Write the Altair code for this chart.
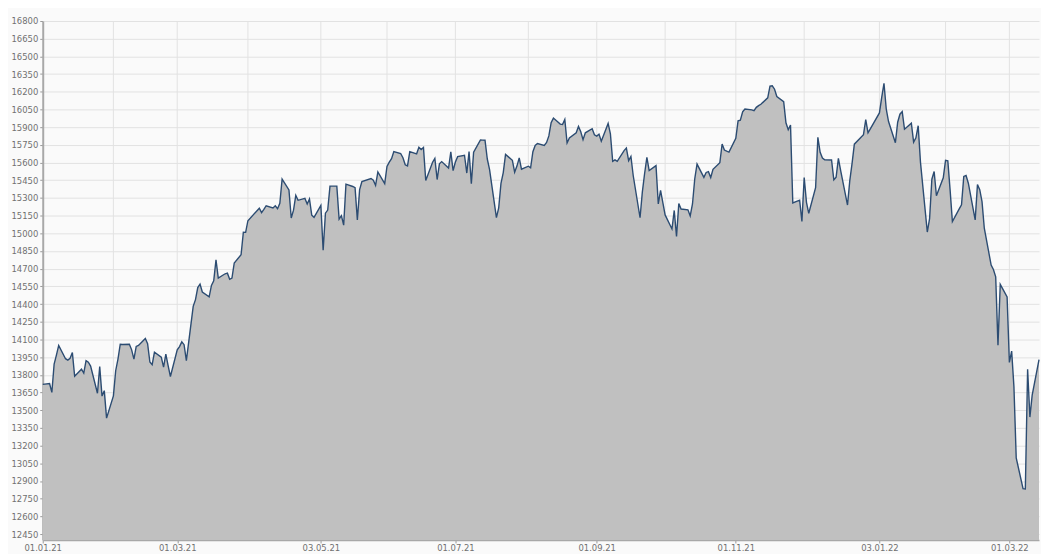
import altair as alt
import pandas as pd

# DAX daily closes
dates = [
    "2021-01-01", "2021-01-04", "2021-01-05", "2021-01-06", "2021-01-07", "2021-01-08", "2021-01-11", "2021-01-12",
    "2021-01-13", "2021-01-14", "2021-01-15", "2021-01-18", "2021-01-19", "2021-01-20", "2021-01-21", "2021-01-22",
    "2021-01-25", "2021-01-26", "2021-01-27", "2021-01-28", "2021-01-29",
    "2021-02-01", "2021-02-02", "2021-02-03", "2021-02-04", "2021-02-05", "2021-02-08", "2021-02-09", "2021-02-10",
    "2021-02-11", "2021-02-12", "2021-02-15", "2021-02-16", "2021-02-17", "2021-02-18", "2021-02-19", "2021-02-22",
    "2021-02-23", "2021-02-24", "2021-02-25", "2021-02-26",
    "2021-03-01", "2021-03-02", "2021-03-03", "2021-03-04", "2021-03-05", "2021-03-08", "2021-03-09", "2021-03-10",
    "2021-03-11", "2021-03-12", "2021-03-15", "2021-03-16", "2021-03-17", "2021-03-18", "2021-03-19", "2021-03-22",
    "2021-03-23", "2021-03-24", "2021-03-25", "2021-03-26", "2021-03-29", "2021-03-30", "2021-03-31",
    "2021-04-01", "2021-04-06", "2021-04-07", "2021-04-08", "2021-04-09", "2021-04-12", "2021-04-13", "2021-04-14",
    "2021-04-15", "2021-04-16", "2021-04-19", "2021-04-20", "2021-04-21", "2021-04-22", "2021-04-23", "2021-04-26",
    "2021-04-27", "2021-04-28", "2021-04-29", "2021-04-30",
    "2021-05-03", "2021-05-04", "2021-05-05", "2021-05-06", "2021-05-07", "2021-05-10", "2021-05-11", "2021-05-12",
    "2021-05-13", "2021-05-14", "2021-05-17", "2021-05-18", "2021-05-19", "2021-05-20", "2021-05-21", "2021-05-25",
    "2021-05-26", "2021-05-27", "2021-05-28", "2021-05-31",
    "2021-06-01", "2021-06-02", "2021-06-03", "2021-06-04", "2021-06-07", "2021-06-08", "2021-06-09", "2021-06-10",
    "2021-06-11", "2021-06-14", "2021-06-15", "2021-06-16", "2021-06-17", "2021-06-18", "2021-06-21", "2021-06-22",
    "2021-06-23", "2021-06-24", "2021-06-25", "2021-06-28", "2021-06-29", "2021-06-30",
    "2021-07-01", "2021-07-02", "2021-07-05", "2021-07-06", "2021-07-07", "2021-07-08", "2021-07-09", "2021-07-12",
    "2021-07-13", "2021-07-14", "2021-07-15", "2021-07-16", "2021-07-19", "2021-07-20", "2021-07-21", "2021-07-22",
    "2021-07-23", "2021-07-26", "2021-07-27", "2021-07-28", "2021-07-29", "2021-07-30",
    "2021-08-02", "2021-08-03", "2021-08-04", "2021-08-05", "2021-08-06", "2021-08-09", "2021-08-10", "2021-08-11",
    "2021-08-12", "2021-08-13", "2021-08-16", "2021-08-17", "2021-08-18", "2021-08-19", "2021-08-20", "2021-08-23",
    "2021-08-24", "2021-08-25", "2021-08-26", "2021-08-27", "2021-08-30", "2021-08-31",
    "2021-09-01", "2021-09-02", "2021-09-03", "2021-09-06", "2021-09-07", "2021-09-08", "2021-09-09", "2021-09-10",
    "2021-09-13", "2021-09-14", "2021-09-15", "2021-09-16", "2021-09-17", "2021-09-20", "2021-09-21", "2021-09-22",
    "2021-09-23", "2021-09-24", "2021-09-27", "2021-09-28", "2021-09-29", "2021-09-30",
    "2021-10-01", "2021-10-04", "2021-10-05", "2021-10-06", "2021-10-07", "2021-10-08", "2021-10-11", "2021-10-12",
    "2021-10-13", "2021-10-14", "2021-10-15", "2021-10-18", "2021-10-19", "2021-10-20", "2021-10-21", "2021-10-22",
    "2021-10-25", "2021-10-26", "2021-10-27", "2021-10-28", "2021-10-29",
    "2021-11-01", "2021-11-02", "2021-11-03", "2021-11-04", "2021-11-05", "2021-11-08", "2021-11-09", "2021-11-10",
    "2021-11-11", "2021-11-12", "2021-11-15", "2021-11-16", "2021-11-17", "2021-11-18", "2021-11-19", "2021-11-22",
    "2021-11-23", "2021-11-24", "2021-11-25", "2021-11-26", "2021-11-29", "2021-11-30",
    "2021-12-01", "2021-12-02", "2021-12-03", "2021-12-06", "2021-12-07", "2021-12-08", "2021-12-09", "2021-12-10",
    "2021-12-13", "2021-12-14", "2021-12-15", "2021-12-16", "2021-12-17", "2021-12-20", "2021-12-21", "2021-12-22",
    "2021-12-23", "2021-12-27", "2021-12-28", "2021-12-29", "2021-12-30",
    "2022-01-03", "2022-01-04", "2022-01-05", "2022-01-06", "2022-01-07", "2022-01-10", "2022-01-11", "2022-01-12",
    "2022-01-13", "2022-01-14", "2022-01-17", "2022-01-18", "2022-01-19", "2022-01-20", "2022-01-21", "2022-01-24",
    "2022-01-25", "2022-01-26", "2022-01-27", "2022-01-28", "2022-01-31",
    "2022-02-01", "2022-02-02", "2022-02-03", "2022-02-04", "2022-02-07", "2022-02-08", "2022-02-09", "2022-02-10",
    "2022-02-11", "2022-02-14", "2022-02-15", "2022-02-16", "2022-02-17", "2022-02-18", "2022-02-21", "2022-02-22",
    "2022-02-23", "2022-02-24", "2022-02-25", "2022-02-28",
    "2022-03-01", "2022-03-02", "2022-03-03", "2022-03-04", "2022-03-07", "2022-03-08", "2022-03-09", "2022-03-10",
    "2022-03-11", "2022-03-14",
]

closes = [
    13719, 13727, 13651, 13892, 13968, 14050, 13937, 13925,
    13940, 13989, 13788, 13848, 13815, 13921, 13907, 13874,
    13644, 13871, 13620, 13666, 13433,
    13622, 13835, 13934, 14060, 14057, 14060, 14012, 13933,
    14041, 14050, 14109, 14065, 13909, 13887, 13993, 13950,
    13865, 13976, 13879, 13786,
    14013, 14040, 14080, 14056, 13921, 14381, 14438, 14540,
    14569, 14502, 14461, 14558, 14597, 14776, 14621, 14657,
    14662, 14610, 14621, 14749, 14818, 15009, 15008,
    15107, 15213, 15176, 15203, 15234, 15215, 15234, 15209,
    15255, 15460, 15368, 15130, 15196, 15321, 15280, 15296,
    15249, 15292, 15154, 15136,
    15236, 14856, 15171, 15197, 15400, 15400, 15120, 15150,
    15069, 15417, 15397, 15387, 15114, 15370, 15438, 15465,
    15451, 15407, 15520, 15421,
    15567, 15603, 15633, 15693, 15677, 15641, 15581, 15571,
    15693, 15674, 15730, 15711, 15728, 15448, 15603, 15636,
    15456, 15589, 15608, 15554, 15691, 15531,
    15604, 15650, 15662, 15511, 15693, 15421, 15688, 15791,
    15790, 15789, 15630, 15540, 15133, 15216, 15423, 15515,
    15669, 15619, 15519, 15570, 15640, 15544,
    15569, 15555, 15692, 15745, 15761, 15745, 15771, 15826,
    15938, 15977, 15926, 15922, 15966, 15766, 15808, 15853,
    15906, 15861, 15794, 15852, 15887, 15835,
    15824, 15841, 15781, 15932, 15843, 15611, 15623, 15610,
    15701, 15723, 15616, 15652, 15490, 15132, 15349, 15507,
    15644, 15532, 15574, 15249, 15365, 15261,
    15156, 15037, 15194, 14973, 15252, 15206, 15199, 15147,
    15249, 15463, 15587, 15474, 15516, 15523, 15473, 15543,
    15599, 15757, 15706, 15696, 15689,
    15806, 15954, 15960, 16030, 16054, 16047, 16040, 16068,
    16083, 16094, 16149, 16248, 16251, 16222, 16160, 16116,
    15937, 15878, 15918, 15257, 15281, 15100,
    15473, 15263, 15170, 15387, 15814, 15687, 15639, 15623,
    15622, 15454, 15476, 15636, 15532, 15240, 15447, 15593,
    15756, 15836, 15964, 15852, 15885,
    16021, 16153, 16272, 16052, 15948, 15768, 15942, 16010,
    16032, 15883, 15934, 15773, 15810, 15912, 15604, 15011,
    15124, 15459, 15524, 15319, 15471,
    15619, 15614, 15368, 15100, 15207, 15242, 15482, 15490,
    15425, 15114, 15413, 15370, 15268, 15043, 14731, 14693,
    14631, 14052, 14567, 14461,
    13905, 14001, 13698, 13095, 12835, 12832, 13848, 13442,
    13628, 13929,
]

# axis labels / grid positions
label_dates = ["2021-01-01", "2021-03-01", "2021-05-03", "2021-07-01",
               "2021-09-01", "2021-11-01", "2022-01-03", "2022-03-01"]
grid_dates = ["2021-02-01", "2021-03-01", "2021-04-01", "2021-05-03", "2021-06-01",
              "2021-07-01", "2021-08-02", "2021-09-01", "2021-10-01", "2021-11-01",
              "2021-12-01", "2022-01-03", "2022-02-01", "2022-03-01"]
y_ticks = list(range(12450, 16801, 150))
x_start, x_end = "2021-01-01", "2022-03-14"
y_min, y_max = 12400, 16800


def ms(d):
    return int(pd.Timestamp(d, tz="UTC").value // 10**6)


df = pd.DataFrame({"date": dates, "close": closes})
grid_df = pd.DataFrame({"date": grid_dates})

x_scale = alt.Scale(type="utc", domain=[ms(x_start), ms(x_end)], nice=False)
y_scale = alt.Scale(domain=[y_min, y_max], zero=False, nice=False)

label_font = "DejaVu Sans"
label_color = "#707070"

x_enc = alt.X(
    "date:T",
    scale=x_scale,
    axis=alt.Axis(
        values=[ms(d) for d in label_dates],
        tickCount=len(label_dates),
        labelExpr="utcFormat(datum.value, '%d.%m.%y')",
        title=None,
        grid=False,
        labelFont=label_font,
        labelFontSize=8.5,
        labelColor=label_color,
        labelPadding=1,
        tickSize=3,
        tickColor="#999999",
        domainColor="#a8a8a8",
        domainWidth=1.5,
        labelFlush=False,
        labelOverlap=False,
    ),
)

y_enc = alt.Y(
    "close:Q",
    scale=y_scale,
    axis=alt.Axis(
        values=y_ticks,
        tickCount=len(y_ticks),
        format="d",
        title=None,
        grid=True,
        gridColor="#e2e2e2",
        gridWidth=1,
        labelFont=label_font,
        labelFontSize=8.5,
        labelColor=label_color,
        labelPadding=2,
        tickSize=3,
        tickColor="#999999",
        domainColor="#a8a8a8",
        domainWidth=2,
        labelFlush=False,
        labelOverlap=False,
    ),
)

grid = alt.Chart(grid_df).mark_rule(color="#e2e2e2", strokeWidth=1).encode(x=x_enc)

area = alt.Chart(df).mark_area(color="#c0c0c0", opacity=1).encode(
    x=x_enc,
    y=y_enc,
    y2=alt.datum(y_min),
)

line = alt.Chart(df).mark_line(color="#2c4c72", strokeWidth=1.4).encode(
    x=x_enc,
    y=y_enc,
)

chart = (
    alt.layer(grid, area, line)
    .properties(
        width=1004,
        height=523,
        autosize=alt.AutoSizeParams(type="none"),
        padding={"left": 35, "top": 11, "right": 2, "bottom": 12},
        background="#fafafa",
    )
    .configure_view(stroke=None, fill="#fafafa")
)

chart.save("out.html", embed_options={"renderer": "svg", "actions": False})
